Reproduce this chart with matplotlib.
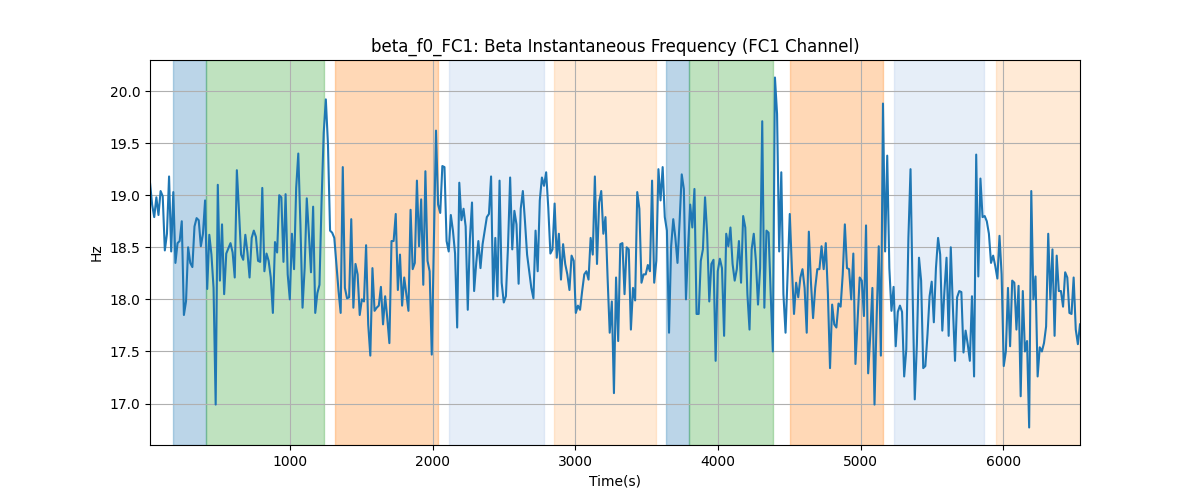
import numpy as np, matplotlib
matplotlib.use("Agg"); import matplotlib.pyplot as plt

# beta instantaneous frequency (Hz)
hz = [19.12, 18.91, 18.79, 18.98, 18.81, 19.04, 18.99, 18.47, 18.63, 19.18, 18.46, 19.03, 18.35, 18.54, 18.56, 18.75,
      17.85, 17.98, 18.50, 18.35, 18.31, 18.70, 18.78, 18.76, 18.51, 18.63, 18.95, 18.10, 18.62, 18.43, 18.11, 16.99,
      19.10, 18.18, 18.72, 18.05, 18.44, 18.49, 18.54, 18.45, 18.21, 19.24, 18.85, 18.43, 18.38, 18.62, 18.45, 18.21,
      18.59, 18.66, 18.60, 18.37, 18.36, 19.07, 18.27,
      18.44, 18.37, 18.21, 17.87, 18.55, 18.45, 19.00, 18.98, 18.36, 19.01, 18.24, 18.00, 18.63, 18.29, 19.07, 19.40,
      18.72, 17.92, 18.30, 18.97, 18.63, 18.26, 18.89, 17.87, 18.06, 18.14, 18.95, 19.60, 19.92, 19.49, 18.66, 18.64,
      18.59, 18.34, 18.08, 17.87, 19.27, 18.11, 18.01, 18.02, 18.77, 17.92, 18.34, 18.24, 17.85, 18.00, 17.98, 18.52,
      17.76, 17.46, 18.30, 17.89, 17.92, 17.94, 18.12,
      17.76, 18.03, 17.82, 17.58, 18.56, 18.56, 18.82, 18.09, 18.43, 17.94, 18.21, 18.05, 17.89, 18.86, 18.29, 18.35,
      19.14, 18.51, 18.96, 18.14, 19.23, 18.37, 18.27, 17.47, 18.54, 19.62, 18.91, 18.83, 19.28, 19.27, 18.56, 18.46,
      18.81, 18.66, 18.44, 17.73, 19.12, 18.76, 18.87, 18.70, 17.90, 18.58, 18.93, 18.08, 18.35, 18.56, 18.30, 18.53,
      18.66, 18.79, 18.82, 19.18, 18.00, 18.59,
      18.03, 19.14, 18.16, 17.97, 18.03, 18.51, 19.17, 18.48, 18.85, 18.72, 18.15, 18.87, 19.04, 18.75, 18.43, 18.27,
      18.11, 18.01, 18.66, 18.27, 18.95, 19.17, 19.09, 19.22, 18.88, 18.44, 18.48, 18.92, 18.40, 18.63, 18.19, 18.53,
      18.34, 18.24, 18.09, 18.42, 18.37, 17.87, 17.94, 17.90, 18.08, 18.24, 18.27, 18.19, 18.59, 18.43, 19.18, 18.34,
      18.93, 19.04, 18.63, 18.79, 18.21, 17.68, 17.98, 17.10, 18.21, 17.60,
      18.53, 18.54, 18.05, 18.50, 18.48, 17.71, 18.11, 17.99, 19.03, 18.87, 18.16, 18.24, 18.24, 18.33, 18.27, 19.14,
      18.16, 18.37, 19.25, 18.95, 19.27, 18.79, 18.66, 17.68, 18.51, 18.77, 18.59, 18.35, 18.75, 19.20, 19.06, 18.00,
      18.50, 18.91, 18.69, 19.06, 17.86, 17.86, 18.37, 18.48, 18.98, 18.63, 17.98, 18.34, 18.38, 17.41, 18.27, 18.39,
      18.30, 17.65, 18.63, 18.51, 18.69, 18.34,
      18.18, 18.29, 18.56, 18.16, 18.80, 18.69, 18.05, 17.71, 18.48, 18.63, 18.37, 17.95, 18.30, 19.71, 17.92, 18.66,
      18.64, 18.05, 17.50, 20.13, 19.78, 18.46, 19.22, 18.05, 17.68, 18.24, 18.82, 18.30, 17.86, 18.16, 18.02, 18.21,
      18.29, 18.11, 17.68, 18.65, 18.16, 17.82, 18.11, 18.29, 18.29, 18.51, 18.29, 18.54, 18.05, 17.34, 17.95, 17.76,
      17.73, 17.96, 17.93, 18.24, 18.72, 18.30,
      18.29, 18.00, 18.44, 17.38, 17.79, 18.21, 18.18, 17.84, 18.71, 17.29, 17.66, 18.11, 16.99, 17.82, 18.51, 17.46,
      19.88, 18.46, 19.38, 18.30, 17.89, 18.12, 17.55, 17.88, 17.94, 17.88, 17.26, 17.52, 18.59, 19.25, 18.05, 17.04,
      17.57, 18.40, 18.18, 17.34, 17.36, 17.66, 18.03, 18.17, 17.78, 18.30, 18.59, 18.43, 17.70, 18.08, 18.40, 17.65,
      18.50, 17.92, 17.41, 18.02, 18.08, 18.07, 17.49,
      17.70, 17.57, 17.41, 18.03, 17.26, 19.39, 18.22, 19.16, 18.79, 18.80, 18.75, 18.63, 18.35, 18.42, 18.32, 18.20,
      18.61, 18.24, 17.36, 17.50, 18.11, 17.55, 18.18, 18.16, 17.71, 18.13, 17.07, 18.08, 17.50, 17.60, 16.77, 19.04,
      18.00, 18.22, 17.26, 17.54, 17.50, 17.58, 17.74, 18.63, 18.00, 18.48, 17.65, 18.42, 18.08, 18.08, 17.93, 18.26,
      18.21, 17.87, 17.86, 18.21, 17.71, 17.57, 17.76]
T_START, T_END = 20, 6538

# shaded epochs (seconds) and their colours
span_start = [181, 415, 1318, 2118, 2853, 3633, 3797, 4504, 5233, 5950]
span_end   = [415, 1236, 2038, 2784, 3569, 3797, 4389, 5154, 5865, 6600]
span_col   = ["#1f77b4", "#2ca02c", "#ff7f0e", "#aec7e8", "#ffbb78",
              "#1f77b4", "#2ca02c", "#ff7f0e", "#aec7e8", "#ffbb78"]

t = np.linspace(T_START, T_END, len(hz))
fig, ax = plt.subplots(figsize=(12, 5), dpi=100)
for s, e, c in zip(span_start, span_end, span_col):
    ax.axvspan(s, e, color=c, alpha=0.3)
ax.plot(t, hz, color="C0")
ax.set_xlim(T_START, T_END)
ax.grid(True)
ax.set_title("beta_f0_FC1: Beta Instantaneous Frequency (FC1 Channel)")
ax.set_xlabel("Time(s)"); ax.set_ylabel("Hz")
fig.savefig("out.png", dpi=100)
